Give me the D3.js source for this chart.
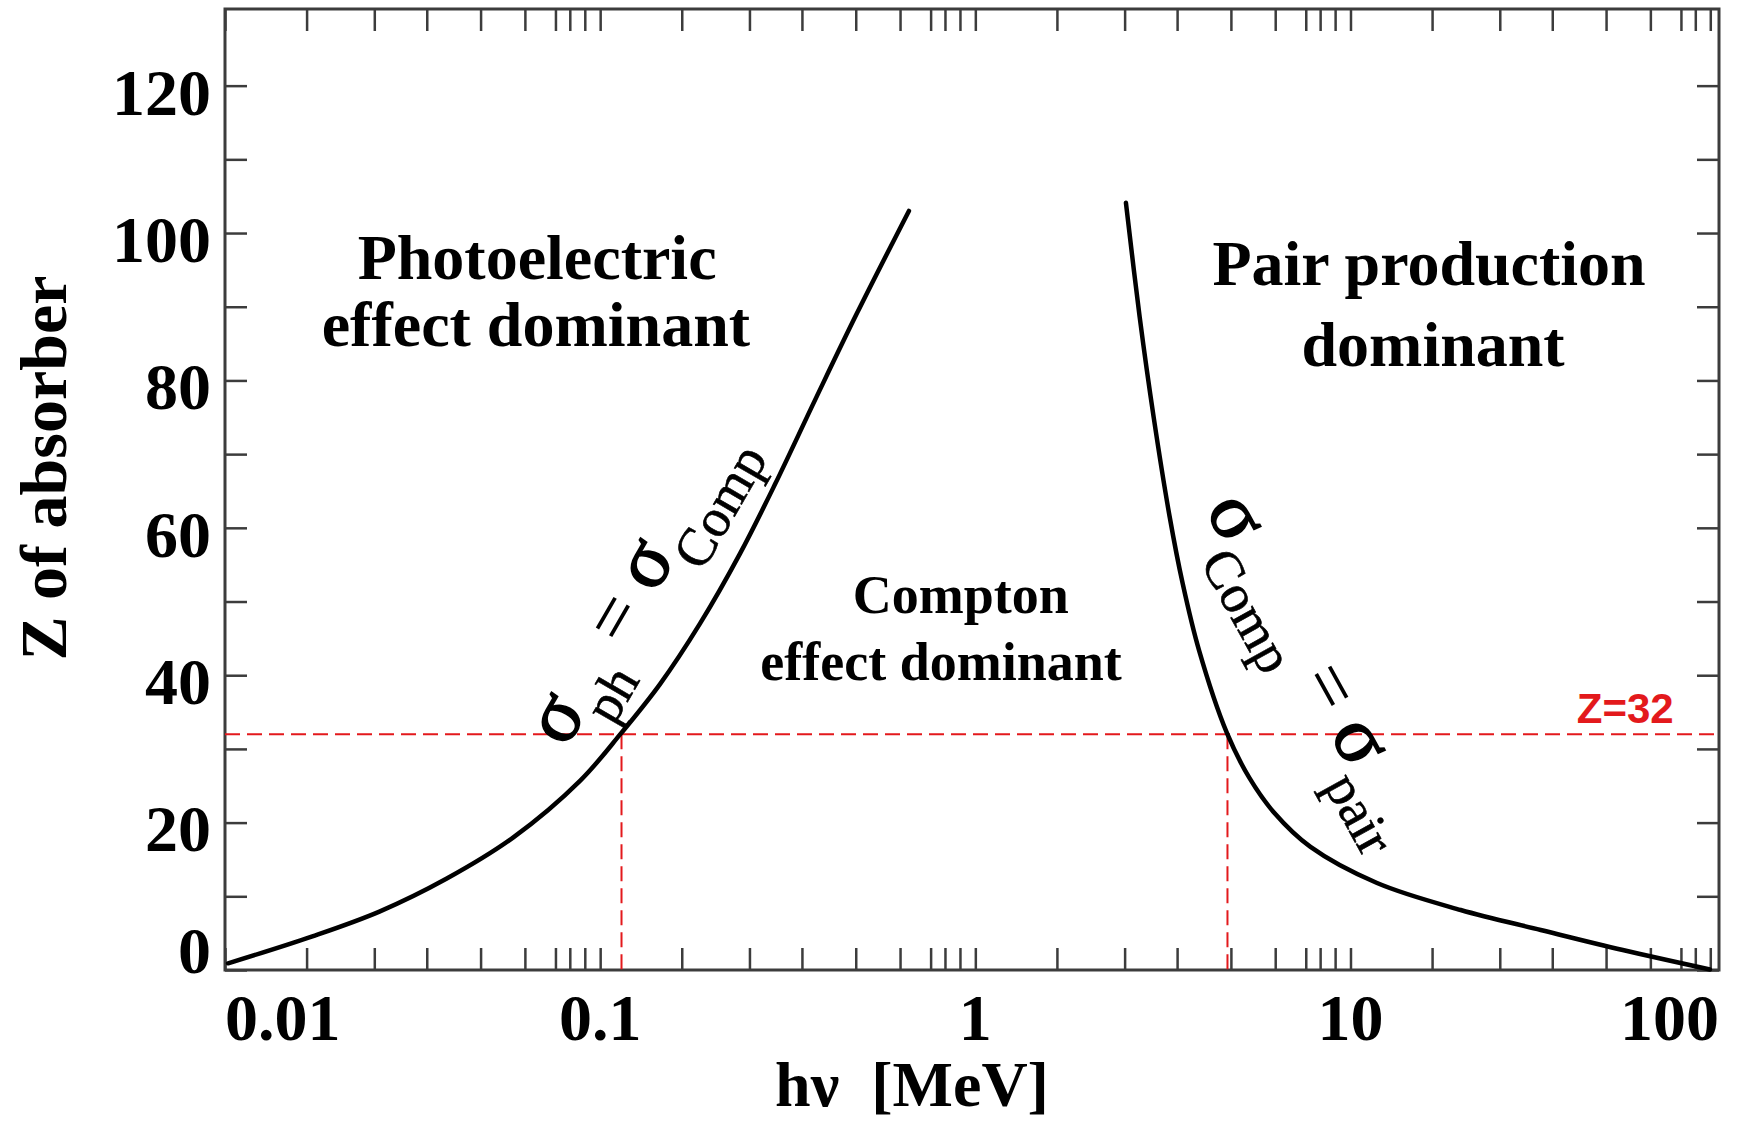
<!DOCTYPE html>
<html>
<head>
<meta charset="utf-8">
<script src="https://cdn.jsdelivr.net/npm/d3@7"></script>
<style>
  body { margin: 0; background: #fff; }
  text { font-family: "Liberation Serif", "Times New Roman", serif; }
</style>
</head>
<body>
<div id="chart"></div>
<script>
// boundary where sigma_ph = sigma_Comp (energy in MeV, Z)
var phE = [0.01019, 0.0171, 0.0258, 0.0389, 0.0587, 0.0885, 0.1136, 0.1444, 0.1845, 0.2359, 0.2924, 0.376, 0.4835, 0.6653];
var phZ = [0.91, 4.57, 7.93, 12.38, 18.0, 25.7, 32.1, 38.8, 47.0, 56.5, 65.9, 77.6, 89.1, 103.0];

// boundary where sigma_Comp = sigma_pair
var pairE = [2.52, 2.742, 2.988, 3.296, 3.568, 3.946, 4.68, 5.372, 6.27, 7.823, 11.77, 19.67, 32.14, 53.19, 90.8];
var pairZ = [104.1, 88.6, 75.0, 61.5, 52.5, 43.4, 32.2, 26.1, 21.3, 16.7, 11.8, 8.14, 5.43, 2.71, 0.07];

// axes
var xMajor = [0.01, 0.1, 1, 10, 100];
var xMajorLabels = ["0.01", "0.1", "1", "10", "100"];
var xMinorSteps = [1.65, 2.5, 3.45, 4.8, 6.3, 7.6, 8.3, 9.1];
var yTicks = [0, 10, 20, 30, 40, 50, 60, 70, 80, 90, 100, 110, 120];
var yTickLabels = ["0", "", "20", "", "40", "", "60", "", "80", "", "100", "", "120"];

// Z = 32 reference (germanium) and the two crossing energies
var refZ = 32;
var refE = [0.114, 4.7];

// region names, placed in data coordinates
var regionText = ["Photoelectric", "effect dominant", "Pair production", "dominant", "Compton", "effect dominant"];
var regionE = [0.0679, 0.0674, 16.2, 16.6, 0.915, 0.81];
var regionZ = [93.8, 84.7, 93.0, 82.0, 48.5, 39.3];

var width = 1739, height = 1125;
var margin = {top: 9, right: 20, bottom: 155, left: 225};
var w = width - margin.left - margin.right,
    h = height - margin.top - margin.bottom;

var svg = d3.select("#chart").append("svg")
    .attr("width", width)
    .attr("height", height);
var g = svg.append("g")
    .attr("transform", "translate(" + margin.left + "," + margin.top + ")");

var x = d3.scaleLog().domain([0.01, 96]).range([0, w]);
var y = d3.scaleLinear().domain([0, 130.4]).range([h, 0]);

var xTicks = [];
xMajor.forEach(function(d) {
  if (d <= x.domain()[1]) xTicks.push(d);
  xMinorSteps.forEach(function(s) {
    if (d * s <= x.domain()[1]) xTicks.push(d * s);
  });
});

var axisColor = "#3c3c3c";

function styleAxis(sel) {
  sel.select(".domain").remove();
  sel.selectAll(".tick line").attr("stroke", axisColor).attr("stroke-width", 2.5);
}

// bottom + top ticks (pointing inward)
g.append("g")
  .attr("transform", "translate(0," + h + ")")
  .call(d3.axisBottom(x).tickValues(xTicks).tickSizeInner(-22).tickSizeOuter(0).tickFormat(""))
  .call(styleAxis);
g.append("g")
  .call(d3.axisTop(x).tickValues(xTicks).tickSizeInner(-22).tickSizeOuter(0).tickFormat(""))
  .call(styleAxis);

// left + right ticks
g.append("g")
  .call(d3.axisLeft(y).tickValues(yTicks).tickSizeInner(-22).tickSizeOuter(0).tickPadding(14)
          .tickFormat(function(d, i) { return yTickLabels[i]; }))
  .call(styleAxis)
  .selectAll("text")
    .style("font-family", "'Liberation Serif', 'Times New Roman', serif")
    .attr("font-size", 66)
    .attr("font-weight", "bold")
    .attr("fill", "#000")
    .attr("dy", function(d) { return d === 0 ? "0.04em" : "0.43em"; });
g.append("g")
  .attr("transform", "translate(" + w + ",0)")
  .call(d3.axisRight(y).tickValues(yTicks).tickSizeInner(-22).tickSizeOuter(0).tickFormat(""))
  .call(styleAxis);

// x tick labels (first one left-aligned, last one right-aligned to the frame)
g.selectAll(".xlab")
  .data(xMajor)
  .enter().append("text")
    .attr("class", "xlab")
    .attr("x", function(d) { return Math.min(x(d), w); })
    .attr("y", h + 70)
    .attr("text-anchor", function(d, i) {
      return i === 0 ? "start" : (i === xMajor.length - 1 ? "end" : "middle");
    })
    .attr("font-size", 66)
    .attr("font-weight", "bold")
    .text(function(d, i) { return xMajorLabels[i]; });

// frame
g.append("rect")
  .attr("width", w)
  .attr("height", h)
  .attr("fill", "none")
  .attr("stroke", axisColor)
  .attr("stroke-width", 3);

// red reference lines
var red = "#e3191c";
g.append("line")
  .attr("x1", x(x.domain()[0])).attr("x2", x(x.domain()[1]))
  .attr("y1", y(refZ)).attr("y2", y(refZ))
  .attr("stroke", red).attr("stroke-width", 2).attr("stroke-dasharray", "15,7");
g.selectAll(".vref")
  .data(refE)
  .enter().append("line")
    .attr("class", "vref")
    .attr("x1", function(d) { return x(d); }).attr("x2", function(d) { return x(d); })
    .attr("y1", y(refZ)).attr("y2", y(0))
    .attr("stroke", red).attr("stroke-width", 2).attr("stroke-dasharray", "15,7");

// boundary curves
var line = d3.line()
  .x(function(d) { return x(d[0]); })
  .y(function(d) { return y(d[1]); })
  .curve(d3.curveCatmullRom.alpha(0.5));

[[phE, phZ], [pairE, pairZ]].forEach(function(s) {
  g.append("path")
    .datum(d3.zip(s[0], s[1]))
    .attr("d", line)
    .attr("fill", "none")
    .attr("stroke", "#000")
    .attr("stroke-width", 4.5)
    .attr("stroke-linejoin", "round")
    .attr("stroke-linecap", "round");
});

// region labels
g.selectAll(".region")
  .data(regionText)
  .enter().append("text")
    .attr("class", "region")
    .attr("x", function(d, i) { return x(regionE[i]); })
    .attr("y", function(d, i) { return y(regionZ[i]); })
    .attr("text-anchor", "middle")
    .attr("font-size", function(d, i) { return i >= 4 ? 54 : 64; })
    .attr("font-weight", "bold")
    .text(function(d) { return d; });

// Z=32 label
g.append("text")
  .attr("x", x(40.1))
  .attr("y", y(33.5))
  .style("font-family", "'Liberation Sans', Arial, sans-serif")
  .attr("font-size", 42)
  .attr("font-weight", "bold")
  .attr("fill", red)
  .text("Z=32");

// sigma labels along the curves
function sigmaLabel(e, z, angle, sub1, sub2) {
  var t = g.append("text")
    .attr("transform", "translate(" + x(e) + "," + y(z) + ") rotate(" + angle + ")")
    .style("white-space", "pre");
  t.append("tspan").attr("font-size", 80).attr("stroke", "#000").attr("stroke-width", 1.6).text("σ");
  t.append("tspan").attr("font-size", 54).attr("stroke", "#000").attr("stroke-width", 0.6).attr("dy", 30).text(sub1);
  t.append("tspan").attr("font-size", 76).attr("dy", -30).text(" = ");
  t.append("tspan").attr("font-size", 80).attr("stroke", "#000").attr("stroke-width", 1.6).text("σ");
  t.append("tspan").attr("font-size", 54).attr("stroke", "#000").attr("stroke-width", 0.6).attr("dy", 30).text(sub2);
}
sigmaLabel(0.0811, 30.0, -60, "ph", "Comp");
sigmaLabel(4.09, 62.5, 61, "Comp", "pair");

// axis titles
svg.append("text")
  .attr("transform", "translate(66,468) rotate(-90)")
  .attr("text-anchor", "middle")
  .attr("font-size", 66)
  .attr("font-weight", "bold")
  .text("Z of absorber");

svg.append("text")
  .attr("x", 912)
  .attr("y", 1106)
  .attr("text-anchor", "middle")
  .attr("font-size", 64)
  .attr("font-weight", "bold")
  .style("white-space", "pre")
  .text("hν  [MeV]");
</script>
</body>
</html>
